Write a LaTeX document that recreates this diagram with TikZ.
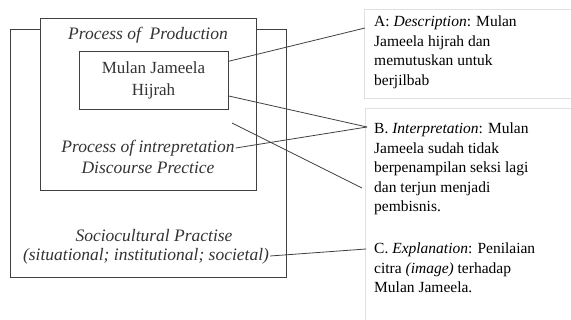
\documentclass[tikz,border=0pt]{standalone}
\usepackage{fontspec}
\setmainfont{Liberation Serif}
\begin{document}
\begin{tikzpicture}[x=1pt, y=-1pt,
    levelbox/.style={draw=black!75, line width=0.9pt},
    panel/.style={draw=black!12, line width=0.6pt, anchor=north west},
    levelname/.style={font=\fontsize{17.5}{20}\selectfont\itshape, text=black!80, inner sep=1pt},
    desc/.style={anchor=north west, align=left, font=\fontsize{15.5}{19.5}\selectfont, inner sep=0pt},
    link/.style={draw=black!75, line width=0.8pt},
  ]
    \useasboundingbox (0,0) rectangle (571,320);

    % nested levels
    \node[levelbox, minimum width=276pt, minimum height=248pt] (socio) at (148,153) {};
    \node[levelbox, fill=white, minimum width=216pt, minimum height=172pt] (discourse) at (148,104) {};
    \node[levelbox, minimum width=149pt, minimum height=58pt] (txt) at (153.5,80) {};

    % level names
    \node[levelname] (prod) at (148,35) {Process of\ \ Production};
    \node[font=\fontsize{17}{22}\selectfont, text=black!80, align=center] (mulan) at (txt) {Mulan Jameela\\Hijrah};
    \node[levelname] (interp) at (148,148) {Process of intrepretation};
    \node[levelname] (dp) at (148,168) {Discourse Prectice};
    \node[levelname] (socioname) at (154,236) {Sociocultural Practise};
    \node[levelname] (sociosub) at (146,256) {(situational; institutional; societal)};

    % right panels
    \node[panel, minimum width=220pt, minimum height=89pt] (panelA) at (364,9) {};
    \node[panel, minimum width=220pt, minimum height=230pt] (panelB) at (365,108) {};

    \node[desc] (descA) at (374,16) {A: \textit{Description}: Mulan\\Jameela hijrah dan\\memutuskan untuk\\berjilbab};
    \node[desc] (descB) at (374,123) {B. \textit{Interpretation}: Mulan\\Jameela sudah tidak\\berpenampilan seksi lagi\\dan terjun menjadi\\pembisnis.};
    \node[desc] (descC) at (374,243) {C. \textit{Explanation}: Penilaian\\citra \textit{(image)} terhadap\\Mulan Jameela.};

    % connector ends
    \coordinate (endA) at (365,28);
    \coordinate (endB) at (367,127);
    \coordinate (startX) at (232,123);
    \coordinate (endX) at (362,188);
    \coordinate (endC) at (366,249);

    \draw[link] (txt.14) -- (endA);
    \draw[link] (txt.-12) -- (endB);
    \draw[link] (interp.east) -- (endB);
    \draw[link] (startX) -- (endX);
    \draw[link] (sociosub.east) -- (endC);
\end{tikzpicture}
\end{document}
